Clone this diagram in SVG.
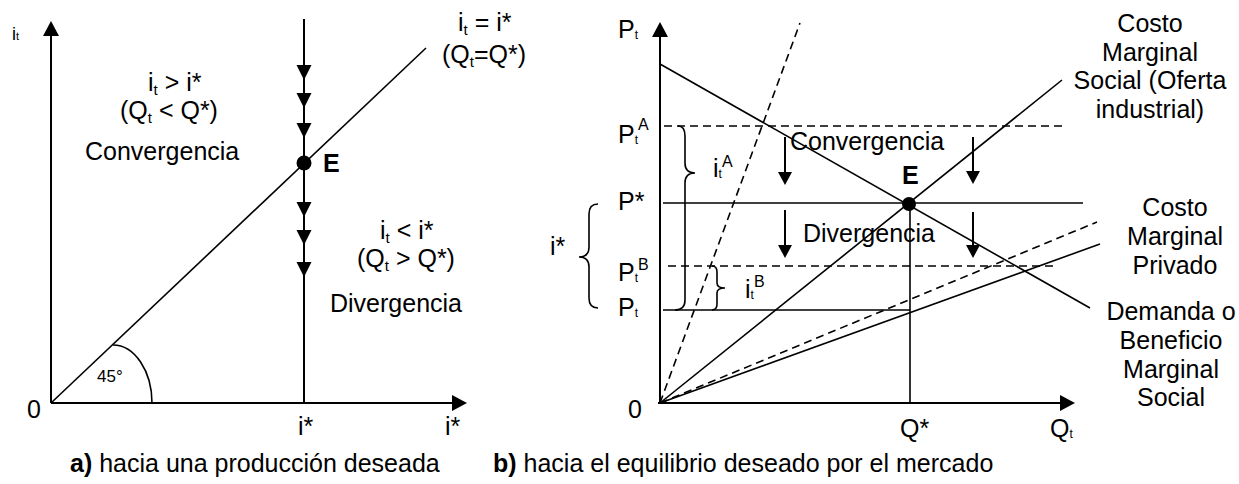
<svg xmlns="http://www.w3.org/2000/svg" xmlns:xlink="http://www.w3.org/1999/xlink" width="1239" height="484" viewBox="0 0 1239 484">
<style>
.ax{stroke:#000;stroke-width:2;fill:none}
.ln{stroke:#000;stroke-width:1.6;fill:none}
.ar{stroke:#000;stroke-width:2;fill:none}
.ds{stroke:#000;stroke-width:1.6;stroke-dasharray:8 5;fill:none}
.br{stroke:#000;stroke-width:1.6;fill:none}
text{font-family:"Liberation Sans",Arial,Helvetica,sans-serif;font-size:25px;fill:#000}
text.sm{font-size:18px}
text.deg{font-size:17px}
.b{font-weight:bold}
.sub{font-size:15px}
.st{font-size:12px}
.xt{font-size:11px}
.sp{font-size:16px}
.lab{text-anchor:middle}
</style>
<defs>
<marker id="axh" markerUnits="userSpaceOnUse" markerWidth="15" markerHeight="16" refX="0" refY="8" orient="auto" viewBox="0 0 15 16"><path d="M0,0 L15,8 L0,16 Z" fill="#000"/></marker>
<marker id="ah" markerUnits="userSpaceOnUse" markerWidth="13" markerHeight="14" refX="0" refY="7" orient="auto" viewBox="0 0 13 14"><path d="M0,0 L13,7 L0,14 Z" fill="#000"/></marker>
<path id="tri" d="M-7.5,-15 L7.5,-15 L0,0 Z" fill="#000"/>
</defs>
<rect width="1239" height="484" fill="#fff"/>

<g id="panel-a">
  <g id="a-axes">
    <line class="ax" x1="51" y1="403" x2="51" y2="36" marker-end="url(#axh)"/>
    <line class="ax" x1="51" y1="403" x2="452" y2="403" marker-end="url(#axh)"/>
  </g>
  <g id="a-lines">
    <line class="ln" x1="51" y1="403" x2="426" y2="48"/>
    <path class="ln" d="M113,345 A39,58 0 0 1 152,403"/>
    <line class="ax" x1="304" y1="19" x2="304" y2="403"/>
    <use xlink:href="#tri" x="304" y="80"/>
    <use xlink:href="#tri" x="304" y="108"/>
    <use xlink:href="#tri" x="304" y="138"/>
    <use xlink:href="#tri" x="304" y="217"/>
    <use xlink:href="#tri" x="304" y="245"/>
    <use xlink:href="#tri" x="304" y="277"/>
    <circle id="a-E" cx="304" cy="163" r="7.5" fill="#000"/>
  </g>
  <g id="a-labels">
    <text class="sm" x="12" y="40">i<tspan class="xt">t</tspan></text>
    <text x="148" y="91">i<tspan class="sub" dy="4">t</tspan><tspan dy="-4"> &gt; i*</tspan></text>
    <text x="120" y="119">(Q<tspan class="sub" dy="4">t</tspan><tspan dy="-4"> &lt; Q*)</tspan></text>
    <text x="85" y="160">Convergencia</text>
    <text x="323" y="172" class="b">E</text>
    <text x="458" y="31">i<tspan class="sub" dy="4">t</tspan><tspan dy="-4"> = i*</tspan></text>
    <text x="442" y="63">(Q<tspan class="sub" dy="4">t</tspan><tspan dy="-4">=Q*)</tspan></text>
    <text x="380" y="239">i<tspan class="sub" dy="4">t</tspan><tspan dy="-4"> &lt; i*</tspan></text>
    <text x="357" y="267">(Q<tspan class="sub" dy="4">t</tspan><tspan dy="-4"> &gt; Q*)</tspan></text>
    <text x="330" y="312">Divergencia</text>
    <text x="298" y="435">i*</text>
    <text x="445" y="435">i*</text>
    <text x="27" y="418">0</text>
    <text class="deg" x="97" y="382">45°</text>
  </g>
</g>

<g id="panel-b">
  <g id="b-axes">
    <line class="ax" x1="660" y1="404" x2="660" y2="37" marker-end="url(#axh)"/>
    <line class="ax" x1="658" y1="403" x2="1060" y2="403" marker-end="url(#axh)"/>
  </g>
  <g id="b-curves">
    <line class="ds" x1="660" y1="403" x2="800" y2="23"/>
    <line class="ln" x1="660" y1="403" x2="1062" y2="80"/>
    <line class="ln" x1="660" y1="403" x2="1100" y2="244"/>
    <line class="ds" x1="660" y1="403" x2="1097" y2="222"/>
    <line class="ln" x1="660" y1="64" x2="1090" y2="308"/>
  </g>
  <g id="b-levels">
    <line class="ds" x1="664" y1="126" x2="1062" y2="126"/>
    <line class="ln" x1="663" y1="203" x2="1083" y2="203"/>
    <line class="ds" x1="668" y1="266" x2="1058" y2="266"/>
    <line class="ln" x1="663" y1="310" x2="910" y2="310"/>
    <line class="ln" x1="910" y1="204" x2="910" y2="403"/>
  </g>
  <g id="b-braces">
    <path class="br" d="M598,204 Q589,204 589,214 L589,247 Q589,257 579,257 Q589,257 589,267 L589,298 Q589,308 598,308"/>
    <path class="br" d="M678,126 Q685,126 685,136 L685,163 Q685,173 695,173 Q685,173 685,183 L685,300 Q685,310 675,310"/>
    <path class="br" d="M712,266 Q717,266 717,272 L717,283 Q717,288 725,288 Q717,288 717,293 L717,304 Q717,310 712,310"/>
  </g>
  <g id="b-arrows">
    <line class="ar" x1="785" y1="137" x2="785" y2="172" marker-end="url(#ah)"/>
    <line class="ar" x1="785" y1="210" x2="785" y2="245" marker-end="url(#ah)"/>
    <line class="ar" x1="973" y1="137" x2="973" y2="171" marker-end="url(#ah)"/>
    <line class="ar" x1="973" y1="212" x2="973" y2="245" marker-end="url(#ah)"/>
  </g>
  <circle id="b-E" cx="909" cy="204" r="7" fill="#000"/>
  <g id="b-labels">
    <text x="618" y="38">P<tspan class="st" dy="1">t</tspan></text>
    <text x="618" y="143">P<tspan class="st" dy="1">t</tspan><tspan class="sp" dy="-14">A</tspan></text>
    <text x="618" y="210">P*</text>
    <text x="618" y="281">P<tspan class="st" dy="1">t</tspan><tspan class="sp" dy="-12">B</tspan></text>
    <text x="618" y="316">P<tspan class="st" dy="1">t</tspan></text>
    <text x="550" y="255">i*</text>
    <text x="713" y="177">i<tspan class="st" dy="1">t</tspan><tspan class="sp" dy="-11">A</tspan></text>
    <text x="745" y="298">i<tspan class="st" dy="1">t</tspan><tspan class="sp" dy="-12">B</tspan></text>
    <text x="790" y="150">Convergencia</text>
    <text x="803" y="242">Divergencia</text>
    <text x="902" y="184" class="b">E</text>
    <text x="628" y="418">0</text>
    <text x="900" y="437">Q*</text>
    <text x="1050" y="437">Q<tspan class="st" dy="1">t</tspan></text>
  </g>
  <g id="b-curve-labels">
    <text class="lab" x="1150" y="32">Costo</text>
    <text class="lab" x="1150" y="60.5">Marginal</text>
    <text class="lab" x="1150" y="89">Social (Oferta</text>
    <text class="lab" x="1150" y="117.5">industrial)</text>
    <text class="lab" x="1175" y="216">Costo</text>
    <text class="lab" x="1175" y="245">Marginal</text>
    <text class="lab" x="1175" y="274">Privado</text>
    <text class="lab" x="1171" y="320">Demanda o</text>
    <text class="lab" x="1171" y="349">Beneficio</text>
    <text class="lab" x="1171" y="378">Marginal</text>
    <text class="lab" x="1171" y="406">Social</text>
  </g>
</g>

<g id="captions">
  <text x="70" y="472"><tspan class="b">a)</tspan> hacia una producción deseada</text>
  <text x="493" y="472"><tspan class="b">b)</tspan> hacia el equilibrio deseado por el mercado</text>
</g>
</svg>
